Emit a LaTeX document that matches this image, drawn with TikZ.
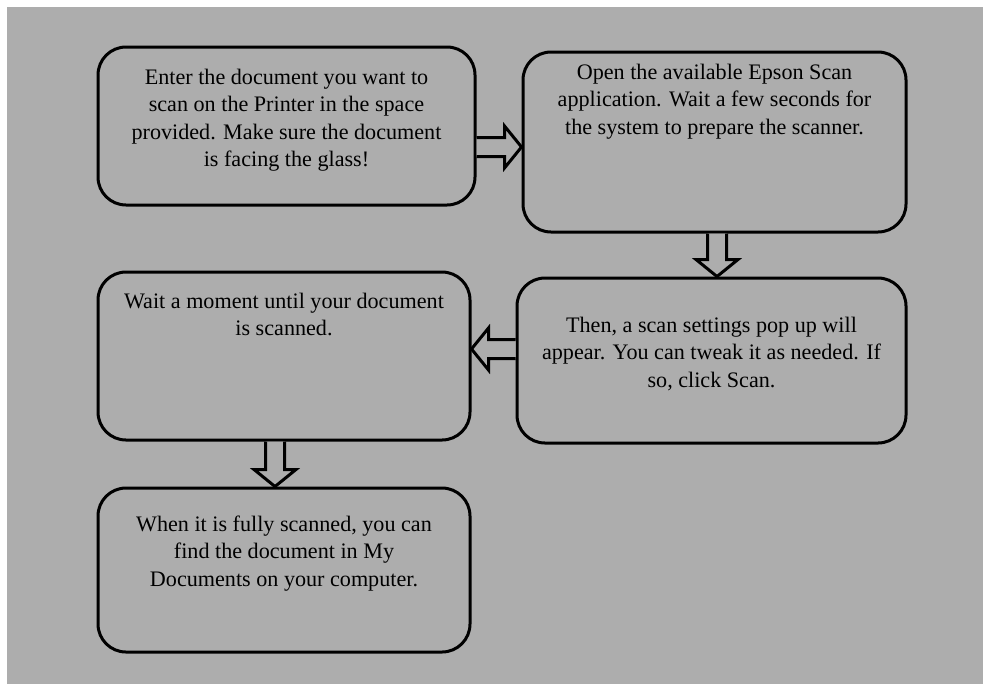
\documentclass[tikz,border=0pt]{standalone}
\usepackage{fontspec}
\setmainfont{Liberation Serif}
\usepackage{tikz}
\usetikzlibrary{calc,positioning}
\definecolor{paper}{HTML}{ADADAD}
\definecolor{ink}{HTML}{000000}
\newlength{\pxu}
\setlength{\pxu}{0.02cm}
\tikzset{
  stepbox/.style={draw=ink, line width=3\pxu, rounded corners=28\pxu, rectangle},
  steptext/.style={align=center, inner sep=0pt, text=ink,
    font=\fontsize{12.6}{15.6}\selectfont},
  fatarrow/.style={draw=ink, fill=paper, line width=3\pxu, line join=miter}
}
% hollow block arrow from #1 (tail) to #2 (tip)
\newcommand{\FatArrow}[2]{%
  \path (#1) coordinate (fa-a) (#2) coordinate (fa-b)
        ($(fa-b)!17\pxu!(fa-a)$) coordinate (fa-h);
  \draw[fatarrow]
    ($(fa-a)!9.5\pxu!90:(fa-b)$) -- ($(fa-h)!9.5\pxu!-90:(fa-a)$)
    -- ($(fa-h)!21\pxu!-90:(fa-a)$) -- (fa-b)
    -- ($(fa-h)!21\pxu!90:(fa-a)$) -- ($(fa-h)!9.5\pxu!90:(fa-a)$)
    -- ($(fa-a)!9.5\pxu!-90:(fa-b)$);
}
\begin{document}
\begin{tikzpicture}[x=0.02cm, y=-0.02cm]
  \useasboundingbox (0,0) rectangle (983,684);
  \fill[white] (0,0) rectangle (983,684);
  \fill[paper] (7,7) rectangle (983,684);

  % boxes
  \node[stepbox, minimum width=377\pxu, minimum height=158\pxu] (b1) at (286.5,126) {};
  \node[stepbox, minimum width=383\pxu, minimum height=180\pxu] (b2) at (714.5,142) {};
  \node[stepbox, minimum width=389\pxu, minimum height=165\pxu] (b3) at (711.5,360.5) {};
  \node[stepbox, minimum width=372\pxu, minimum height=168\pxu] (b4) at (284,356) {};
  \node[stepbox, minimum width=372\pxu, minimum height=164\pxu] (b5) at (284,570) {};

  % texts
  \node[steptext, below=23\pxu of b1.north] (t1)
    {Enter the document you want to\\scan on the Printer in the space\\provided. Make sure the document\\is facing the glass!};
  \node[steptext, below=13\pxu of b2.north] (t2)
    {Open the available Epson Scan\\application. Wait a few seconds for\\the system to prepare the scanner.};
  \node[steptext, below=40\pxu of b3.north] (t3)
    {Then, a scan settings pop up will\\appear. You can tweak it as needed. If\\so, click Scan.};
  \node[steptext, below=22\pxu of b4.north] (t4)
    {Wait a moment until your document\\is scanned.};
  \node[steptext, below=29\pxu of b5.north] (t5)
    {When it is fully scanned, you can\\find the document in My\\Documents on your computer.};

  % arrows
  \FatArrow{b1.east |- 0,147}{b2.west |- 0,147}
  \FatArrow{b2.south -| 717,0}{b3.north -| 717,0}
  \FatArrow{b3.west |- 0,349}{b4.east |- 0,349}
  \FatArrow{b4.south -| 275,0}{b5.north -| 275,0}
\end{tikzpicture}
\end{document}
